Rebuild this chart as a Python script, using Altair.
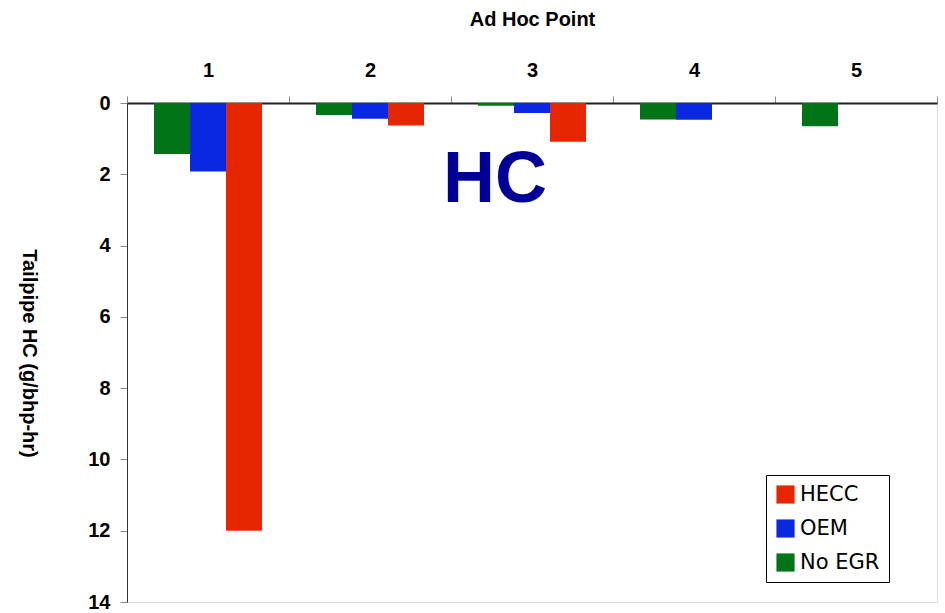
import altair as alt
import pandas as pd

points = ["1", "2", "3", "4", "5"]
series = ["No EGR", "OEM", "HECC"]
no_egr = [1.43, 0.34, 0.08, 0.46, 0.65]
oem = [1.92, 0.44, 0.28, 0.47, None]
hecc = [12.0, 0.63, 1.09, None, None]
colors = ["#007417", "#0A28E0", "#E62600"]
legend_order = ["HECC", "OEM", "No EGR"]

rows = []
for name, vals in zip(series, [no_egr, oem, hecc]):
    for p, v in zip(points, vals):
        if v is not None:
            rows.append({"point": p, "series": name, "value": v})
df = pd.DataFrame(rows)

bars = alt.Chart(df).mark_bar().encode(
    x=alt.X("point:N", sort=points,
            scale=alt.Scale(paddingInner=0, paddingOuter=0),
            axis=alt.Axis(orient="top", title="Ad Hoc Point", labelAngle=0,
                          tickBand="extent", tickSize=7, labelPadding=16,
                          labelFont="Liberation Sans", labelFontWeight="bold",
                          labelFontSize=20, labelColor="black",
                          titleFont="Liberation Sans", titleFontWeight="bold",
                          titleFontSize=20, titleColor="black",
                          titleY=-84, titleBaseline="middle",
                          domainColor="#222222", domainWidth=2,
                          tickColor="#888888")),
    xOffset=alt.XOffset("series:N", sort=series,
                        scale=alt.Scale(paddingOuter=0.75, paddingInner=0)),
    y=alt.Y("value:Q",
            scale=alt.Scale(domain=[0, 14], reverse=True, nice=False),
            axis=alt.Axis(values=list(range(0, 15, 2)), title="Tailpipe HC (g/bhp-hr)",
                          grid=False, tickSize=7, labelPadding=10,
                          labelFont="Liberation Sans", labelFontWeight="bold",
                          labelFontSize=20, labelColor="black",
                          titleFont="Liberation Sans", titleFontWeight="bold",
                          titleFontSize=20, titleColor="black",
                          titleAngle=90, titleX=-99, titleY=250,
                          titleAlign="center", titleBaseline="middle",
                          domainColor="#333333", tickColor="#888888")),
    color=alt.Color("series:N",
                    scale=alt.Scale(domain=series, range=colors),
                    sort=legend_order,
                    legend=alt.Legend(title=None, orient="none", legendX=639, legendY=372,
                                      symbolType="square", symbolSize=330,
                                      symbolStrokeWidth=0, labelFont="DejaVu Sans",
                                      labelFontSize=21, labelColor="black",
                                      rowPadding=12, padding=9,
                                      strokeColor="black", fillColor="white",
                                      values=legend_order)),
)

label = alt.Chart(pd.DataFrame({"t": ["HC"]})).mark_text(
    font="Liberation Sans", fontWeight="bold", fontSize=72, color="#000096",
    align="center", baseline="middle"
).encode(text="t:N", x=alt.value(368), y=alt.value(77))

chart = alt.layer(bars, label).properties(
    width=810, height=499,
    autosize=alt.AutoSizeParams(type="none"),
    padding={"left": 127, "top": 103, "right": 8, "bottom": 11},
).configure_view(stroke="#333333", strokeWidth=1).configure(background="white")

chart.save("out.html", embed_options={"renderer": "svg", "actions": False})
